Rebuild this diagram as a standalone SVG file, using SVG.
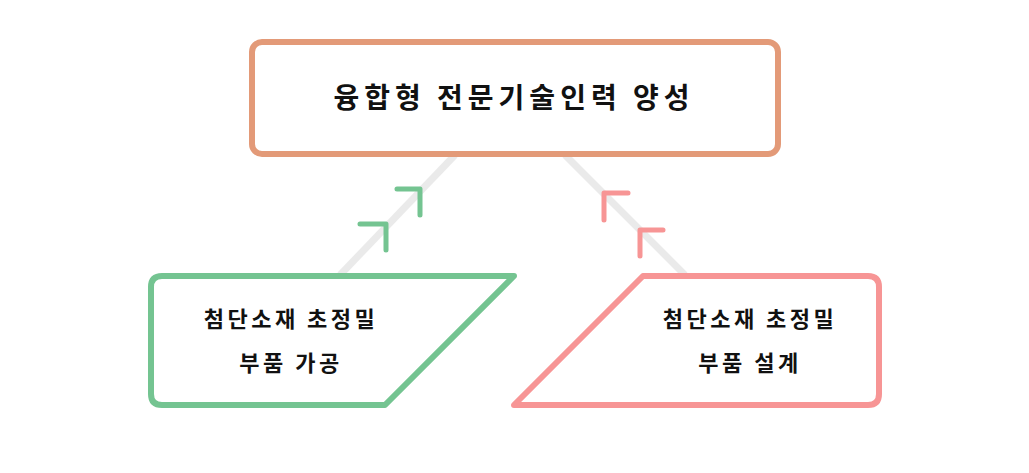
<svg xmlns="http://www.w3.org/2000/svg" width="1029" height="473" viewBox="0 0 1029 473">
<style>
text{font-family:"Noto Sans CJK KR",sans-serif;font-weight:bold;fill:#111;text-anchor:middle}
.g{stroke:#eaeaea;stroke-width:7;fill:none}
.ch{fill:none;stroke-width:5;stroke-linecap:round;stroke-linejoin:round}
.s{font-size:22px;letter-spacing:3.5px}
</style>
<rect width="1029" height="473" fill="#fff"/>
<g id="connectors">
<line class="g" x1="340" y1="275" x2="455" y2="155"/>
<line class="g" x1="565" y1="155" x2="685" y2="275"/>
<path class="ch" stroke="#74c491" d="M397,189H420V215M360,224H386V250"/>
<path class="ch" stroke="#f79595" d="M604,220V193H628M640,256V230H663"/>
</g>
<g id="top">
<rect x="252" y="42" width="526" height="112" rx="10" fill="#fff" stroke="#e39a78" stroke-width="6"/>
<text x="514" y="108" font-size="28" letter-spacing="5">융합형 전문기술인력 양성</text>
</g>
<g id="left">
<path d="M162,276H514L385,405H162Q151,405 151,394V287Q151,276 162,276Z" fill="#fff" stroke="#74c491" stroke-width="6" stroke-linejoin="round"/>
<text class="s" x="291" y="327">첨단소재 초정밀</text>
<text class="s" x="291" y="371">부품 가공</text>
</g>
<g id="right">
<path d="M643,276H868Q879,276 879,287V394Q879,405 868,405H514Z" fill="#fff" stroke="#f79595" stroke-width="6" stroke-linejoin="round"/>
<text class="s" x="750" y="327">첨단소재 초정밀</text>
<text class="s" x="750" y="371">부품 설계</text>
</g>
</svg>
